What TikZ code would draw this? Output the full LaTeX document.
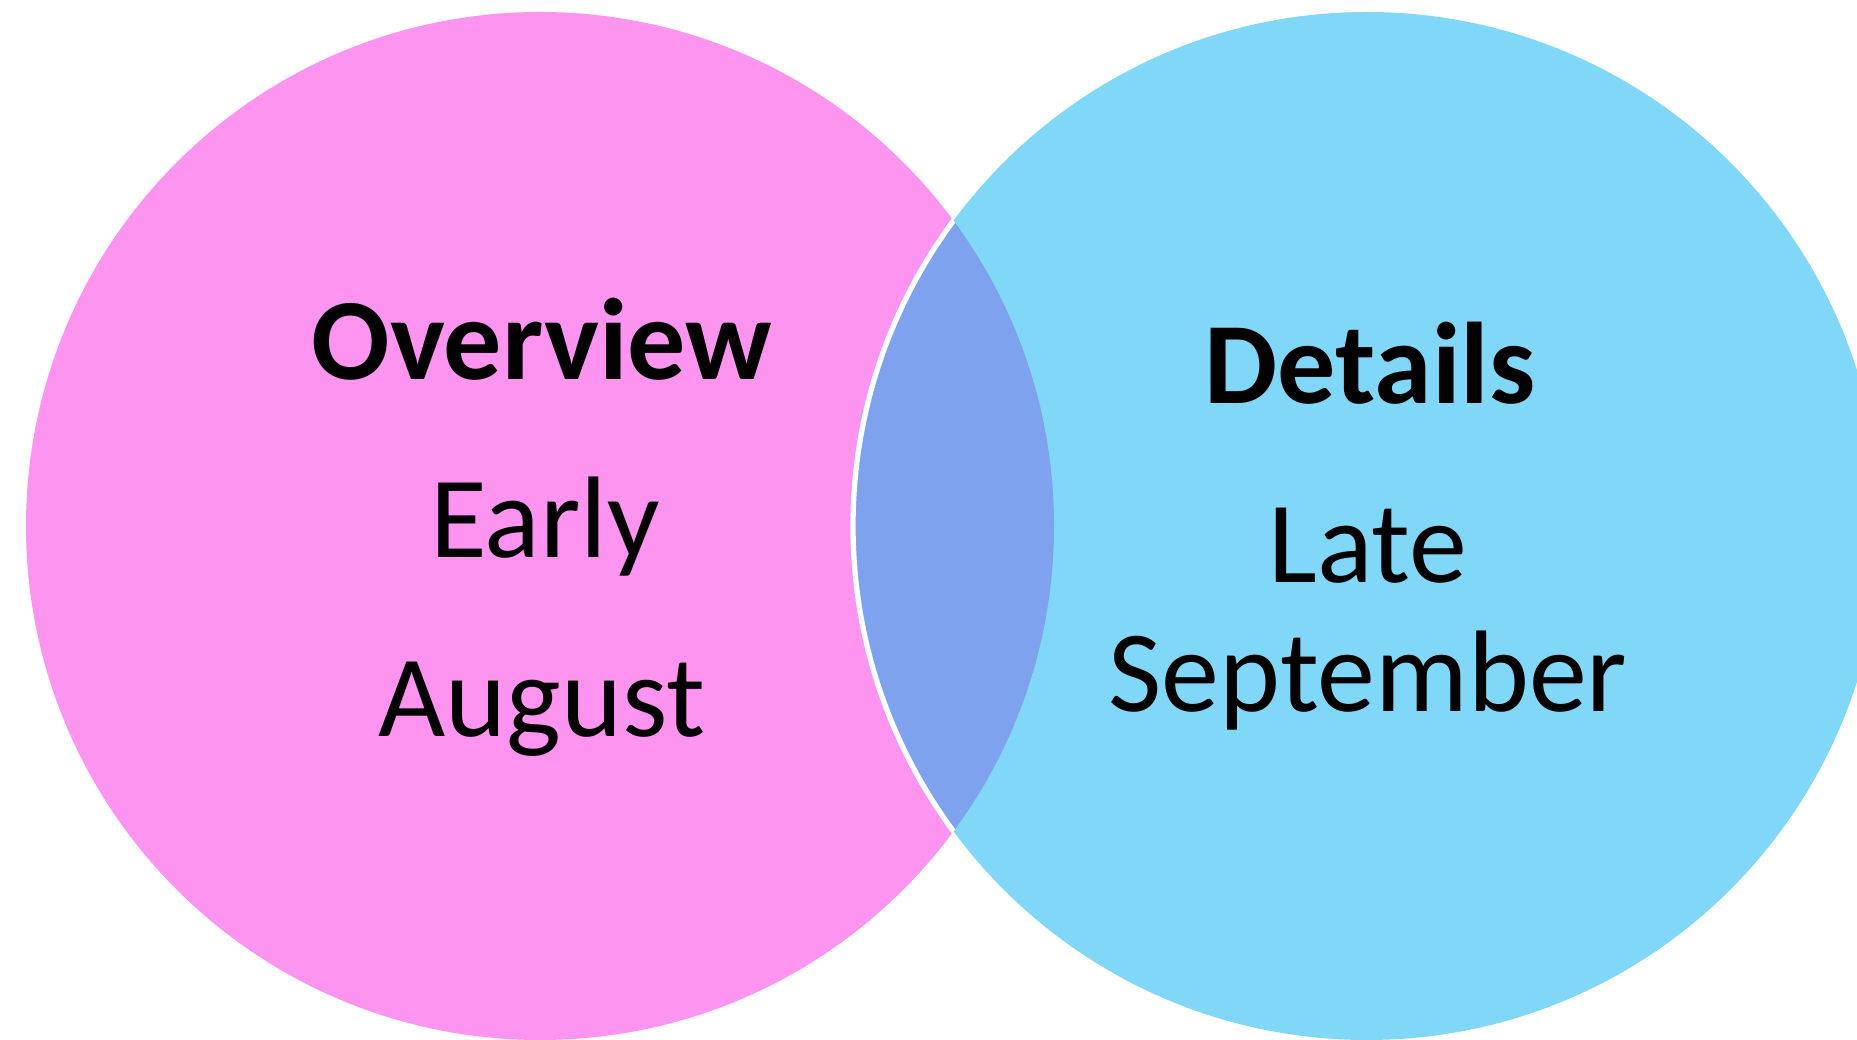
\documentclass[tikz,border=0pt]{standalone}
\usepackage{fontspec}
\setmainfont{Carlito}
\usepackage{tikz}
\usetikzlibrary{positioning,calc}
\definecolor{overviewpink}{RGB}{252,148,240}
\definecolor{detailsblue}{RGB}{129,215,248}
\definecolor{lensblue}{RGB}{127,162,239}
\tikzset{every node/.style={inner sep=0pt,anchor=base,font=\fontsize{33}{40}\selectfont},
         heading/.style={font=\fontsize{33}{40}\selectfont\bfseries}}
\begin{document}
\begin{tikzpicture}[x=0.01cm,y=0.01cm]
            \useasboundingbox (0,0) rectangle (1857,1039);
            \coordinate (lc) at (540,513);
            \coordinate (rc) at (1367,513);
            \fill[overviewpink] (lc) circle (514);
            \fill[detailsblue] (rc) circle (514);
            \begin{scope}
              \clip (lc) circle (514);
              \fill[lensblue] (rc) circle (514);
              \draw[white,line width=1.5] (rc) circle (514);
            \end{scope}
            \node[heading] (ov) at (542,659) {Overview};
            \node (early) at (545,481) {Early};
            \node (aug) at (542,302) {August};
            \node[heading] (det) at (1370,635) {Details};
            \node (late) at (1368,456) {Late};
            \node (sep) at (1368,327) {September};
          \end{tikzpicture}
\end{document}
